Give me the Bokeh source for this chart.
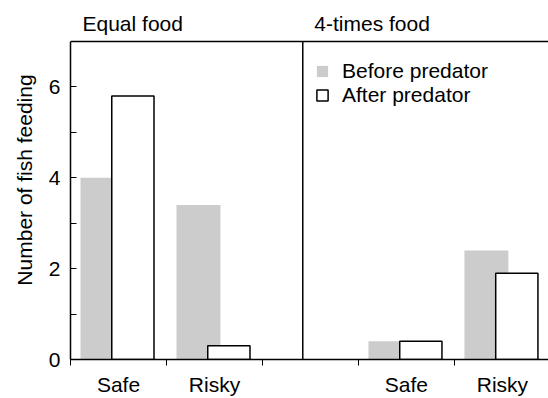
from bokeh.plotting import figure
from bokeh.models import FixedTicker, Range1d, Span, Label, Legend, LegendItem, ColumnDataSource
from bokeh.embed import file_html
from bokeh.resources import INLINE

# ---- data ----
categories = ["Safe", "Risky", "Safe", "Risky"]
group_slot = [0, 1, 3, 4]            # interval index of each category along x
before_predator = [4.0, 3.4, 0.4, 2.4]
after_predator = [5.8, 0.3, 0.4, 1.9]
panel_titles = ["Equal food", "4-times food"]
y_major = [0, 2, 4, 6]
y_minor = [1, 3, 5]
Y_TOP = 7
DIVIDER = 2.42

FONT = "Liberation Sans"
FS = "21px"
GRAY = "#cccccc"

before_x = [s + 0.333 for s in group_slot]
after_x = [s + 0.65 for s in group_slot]
src_b = ColumnDataSource(dict(x=before_x, top=before_predator))
src_a = ColumnDataSource(dict(x=after_x, top=after_predator))

p = figure(width=548, height=398, output_backend="svg", toolbar_location=None,
           x_range=Range1d(0, 4.98), y_range=Range1d(0, 7.9),
           min_border_left=70, min_border_top=0, min_border_bottom=39, min_border_right=0)
p.xgrid.visible = False
p.ygrid.visible = False
p.outline_line_color = None
p.background_fill_color = "white"
p.border_fill_color = "white"

rb = p.vbar(x="x", top="top", width=0.458, bottom=0, source=src_b,
            fill_color=GRAY, line_color=None)
ra = p.vbar(x="x", top="top", width=0.44, bottom=0, source=src_a,
            fill_color="white", line_color="black", line_width=1.5)

# top border of the panel box and divider between panels
p.add_layout(Span(location=Y_TOP, dimension="width", line_color="black", line_width=1.5))
p.segment(x0=[DIVIDER], y0=[0], x1=[DIVIDER], y1=[Y_TOP], line_color="black", line_width=1.5)

# x axis
xa = p.xaxis[0]
xa.ticker = FixedTicker(ticks=[s + 0.5 for s in group_slot], minor_ticks=[0, 1, 2, 3, 4])
xa.major_label_overrides = {s + 0.5: c for s, c in zip(group_slot, categories)}
xa.major_tick_in = 0
xa.major_tick_out = 0
xa.minor_tick_in = 0
xa.minor_tick_out = 6
xa.minor_tick_line_color = "black"
xa.axis_line_color = "black"
xa.axis_line_width = 1.5
xa.major_label_standoff = 7
xa.major_label_text_line_height = 1.0
xa.major_label_text_font = FONT
xa.major_label_text_font_size = FS
xa.major_label_text_color = "black"

# y axis
ya = p.yaxis[0]
ya.bounds = (0, Y_TOP)
ya.ticker = FixedTicker(ticks=y_major, minor_ticks=y_minor)
ya.major_tick_in = 6
ya.major_tick_out = 0
ya.minor_tick_in = 6
ya.minor_tick_out = 0
ya.major_tick_line_color = "black"
ya.minor_tick_line_color = "black"
ya.axis_line_color = "black"
ya.axis_line_width = 1.5
ya.major_label_standoff = 10
ya.major_label_text_font = FONT
ya.major_label_text_font_size = FS
ya.major_label_text_color = "black"
ya.axis_label = "Number of fish feeding"
ya.axis_label_text_font = FONT
ya.axis_label_text_font_size = FS
ya.axis_label_text_font_style = "normal"
ya.axis_label_text_color = "black"
ya.axis_label_standoff = 10

# panel titles
for tx, t in zip([0.125, 2.54], panel_titles):
    p.add_layout(Label(x=tx, y=Y_TOP, y_offset=18, text=t, text_font=FONT,
                       text_font_size=FS, text_color="black", text_baseline="alphabetic"))

legend = Legend(items=[LegendItem(label="Before predator", renderers=[rb]),
                       LegendItem(label="After predator", renderers=[ra])],
                location=(245, 252), padding=0, margin=0, spacing=-4,
                glyph_width=14, glyph_height=14, label_height=20, label_standoff=13,
                label_text_font=FONT, label_text_font_size=FS, label_text_color="black",
                border_line_color=None, background_fill_alpha=0)
p.add_layout(legend)

open("out.html", "w").write(file_html(p, INLINE))
